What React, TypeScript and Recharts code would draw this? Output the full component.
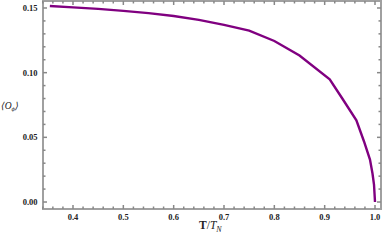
import React from 'react';
import { LineChart, Line, XAxis, YAxis, ReferenceArea } from 'recharts';

// T / T_N
const tRatio = [0.354, 0.4, 0.45, 0.5, 0.55, 0.6, 0.65, 0.7, 0.75, 0.8, 0.85, 0.91, 0.935, 0.963, 0.978, 0.99, 0.995, 0.998, 1.0];
// <O_phi>
const orderParam = [0.1515, 0.1505, 0.1493, 0.1478, 0.146, 0.1438, 0.1408, 0.137, 0.1325, 0.1245, 0.1132, 0.0948, 0.08, 0.0632, 0.047, 0.0328, 0.022, 0.0135, 0.0];

const xMajorTicks = [0.4, 0.5, 0.6, 0.7, 0.8, 0.9, 1.0];
const yMajorTicks = [0.0, 0.05, 0.1, 0.15];

const data = tRatio.map((t, i) => ({ t, o: orderParam[i] }));

const r2 = (v: number) => Math.round(v * 1000) / 1000;
const steps = (from: number, to: number, step: number) => {
  const out: number[] = [];
  for (let v = from; v <= to + 1e-9; v += step) out.push(r2(v));
  return out;
};
const xTicks = steps(0.34, 1.0, 0.02);
const yTicks = steps(0.0, 0.15, 0.01);
const isMajor = (v: number, majors: number[]) => majors.some((m) => Math.abs(m - v) < 1e-6);

const FRAME = '#a0a0a0';
const TICK = '#888888';
const LINE = '#800080';
const LABEL_FONT = '"Liberation Serif", "DejaVu Serif", serif';
const X_DOMAIN: [number, number] = [0.3404, 1.0119];
const Y_DOMAIN: [number, number] = [-0.0054, 0.1554];

// ticks drawn as paths, pointing into the frame
const BottomTick = (props: any) => {
  const { x, y, payload } = props;
  const major = isMajor(payload.value, xMajorTicks);
  return (
    <g>
      <path d={`M${x},${y}v${major ? -4 : -2.5}`} stroke={TICK} strokeWidth={1.5} fill="none" />
      {major && (
        <text x={x} y={y + 10.5} textAnchor="middle" fontFamily={LABEL_FONT} fontWeight="bold" fontSize={8.5} fill="#222">
          {payload.value.toFixed(1)}
        </text>
      )}
    </g>
  );
};

const TopTick = (props: any) => {
  const { x, y, payload } = props;
  const major = isMajor(payload.value, xMajorTicks);
  return <path d={`M${x},${y}v${major ? 4 : 2.5}`} stroke={TICK} strokeWidth={1.5} fill="none" />;
};

const LeftTick = (props: any) => {
  const { x, y, payload } = props;
  const major = isMajor(payload.value, yMajorTicks);
  return (
    <g>
      <path d={`M${x},${y}h${major ? 4 : 2.5}`} stroke={TICK} strokeWidth={1.5} fill="none" />
      {major && (
        <text x={x - 5.5} y={y + 3} textAnchor="end" fontFamily={LABEL_FONT} fontWeight="bold" fontSize={8.5} fill="#222">
          {payload.value.toFixed(2)}
        </text>
      )}
    </g>
  );
};

const RightTick = (props: any) => {
  const { x, y, payload } = props;
  const major = isMajor(payload.value, yMajorTicks);
  return <path d={`M${x},${y}h${major ? -4 : -2.5}`} stroke={TICK} strokeWidth={1.5} fill="none" />;
};

const YTitle = () => (
  <text x={1} y={109} fontFamily={LABEL_FONT} fontStyle="italic" fontSize={9.5} fill="#222">
    {'\u27E8'}O
    <tspan dy={2} fontSize={6.5}>{'\u03D5'}</tspan>
    <tspan dy={-2}>{'\u27E9'}</tspan>
  </text>
);

const XTitle = () => (
  <text x={199} y={229} fontFamily={LABEL_FONT} fontSize={11.5} fill="#222">
    <tspan fontWeight="bold">T</tspan>
    <tspan>/</tspan>
    <tspan fontStyle="italic">T</tspan>
    <tspan dy={2.5} fontStyle="italic" fontSize={8}>N</tspan>
  </text>
);

export default function App() {
  return (
    <div style={{ position: 'fixed', left: 0, top: 0, width: 382, height: 242, background: '#fff' }}>
      <LineChart width={382} height={242} data={data} margin={{ top: 0, right: 0, bottom: 0, left: 0 }}>
        <XAxis
          xAxisId="bottom"
          dataKey="t"
          type="number"
          domain={X_DOMAIN}
          allowDataOverflow
          ticks={xTicks}
          interval={0}
          height={33}
          tickSize={0}
          tickMargin={0}
          tickLine={false}
          axisLine={false}
          tick={<BottomTick />}
          label={{ content: () => <XTitle /> }}
        />
        <XAxis
          xAxisId="top"
          orientation="top"
          dataKey="t"
          type="number"
          domain={X_DOMAIN}
          allowDataOverflow
          ticks={xTicks}
          interval={0}
          height={1}
          tickSize={0}
          tickMargin={0}
          tickLine={false}
          axisLine={false}
          tick={<TopTick />}
        />
        <YAxis
          yAxisId="left"
          type="number"
          domain={Y_DOMAIN}
          allowDataOverflow
          ticks={yTicks}
          interval={0}
          width={43}
          tickSize={0}
          tickMargin={0}
          tickLine={false}
          axisLine={false}
          tick={<LeftTick />}
          label={{ content: () => <YTitle /> }}
        />
        <YAxis
          yAxisId="right"
          orientation="right"
          type="number"
          domain={Y_DOMAIN}
          allowDataOverflow
          ticks={yTicks}
          interval={0}
          width={1}
          tickSize={0}
          tickMargin={0}
          tickLine={false}
          axisLine={false}
          tick={<RightTick />}
        />
        <ReferenceArea
          xAxisId="bottom"
          yAxisId="left"
          x1={X_DOMAIN[0]}
          x2={X_DOMAIN[1]}
          y1={Y_DOMAIN[0]}
          y2={Y_DOMAIN[1]}
          fill="none"
          fillOpacity={0}
          stroke={FRAME}
          strokeWidth={2}
          strokeOpacity={1}
        />
        <Line
          xAxisId="bottom"
          yAxisId="left"
          dataKey="o"
          type="linear"
          stroke={LINE}
          strokeWidth={2.4}
          dot={false}
          isAnimationActive={false}
        />
      </LineChart>
    </div>
  );
}
